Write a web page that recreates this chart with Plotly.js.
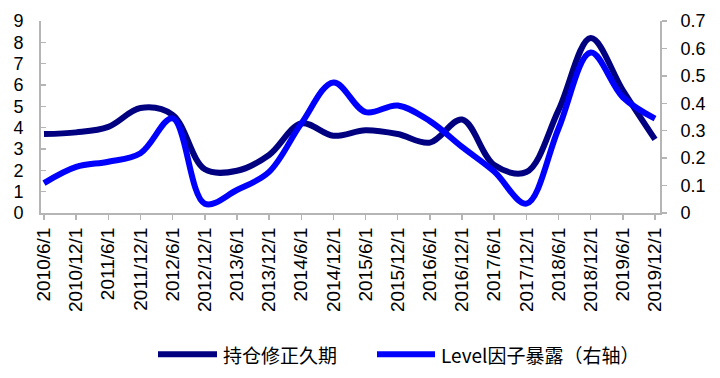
<!DOCTYPE html>
<html>
<head>
<meta charset="utf-8">
<script src="https://cdn.plot.ly/plotly-3.0.1.min.js"></script>
<style>
html,body{margin:0;padding:0;background:#fff;}
#chart{width:720px;height:378px;}
</style>
</head>
<body>
<div id="chart"></div>
<script>
// Data
const categories = ["2010/6/1","2010/12/1","2011/6/1","2011/12/1","2012/6/1","2012/12/1","2013/6/1","2013/12/1","2014/6/1","2014/12/1","2015/6/1","2015/12/1","2016/6/1","2016/12/1","2017/6/1","2017/12/1","2018/6/1","2018/12/1","2019/6/1","2019/12/1"];
const durationValues = [3.70, 3.78, 4.04, 4.92, 4.60, 2.05, 1.98, 2.72, 4.20, 3.62, 3.88, 3.70, 3.30, 4.38, 2.25, 1.92, 4.82, 8.20, 5.75, 3.45];
const levelValues = [0.109, 0.168, 0.187, 0.218, 0.345, 0.034, 0.084, 0.150, 0.326, 0.476, 0.368, 0.392, 0.335, 0.241, 0.151, 0.034, 0.308, 0.585, 0.422, 0.344];
const seriesNames = ["持仓修正久期", "Level因子暴露（右轴）"];
const leftTicks = [0,1,2,3,4,5,6,7,8,9];
const rightTicks = [0,0.1,0.2,0.3,0.4,0.5,0.6,0.7];

const navy = "#000080";
const blue = "#0000FF";
const axisGray = "#b5b5b5";
const latin = "Arial, 'Liberation Sans', sans-serif";
const tickFont = {family: latin, size: 18, color: "#000"};

const traces = [
  {x: categories, y: durationValues, name: seriesNames[0], type: "scatter", mode: "lines",
   line: {color: navy, width: 6, shape: "spline", smoothing: 1}, yaxis: "y"},
  {x: categories, y: levelValues, name: seriesNames[1], type: "scatter", mode: "lines",
   line: {color: blue, width: 6, shape: "spline", smoothing: 1}, yaxis: "y2"}
];

// plot area geometry (pixels)
const L = 41, R = 660, T = 20.7, B = 213.3;
const W = 720, H = 378;
const px = v => (v - L) / (R - L);
const py = v => (B - v) / (B - T);
const legY = py(355);

const layout = {
  width: W, height: H,
  margin: {l: L, r: W - R, t: T, b: H - B, pad: 0},
  paper_bgcolor: "#fff", plot_bgcolor: "#fff",
  showlegend: false,
  xaxis: {
    type: "category", range: [-0.093, 19.155],
    showgrid: false, zeroline: false,
    showline: true, linecolor: axisGray, linewidth: 2,
    ticks: "outside", ticklen: 5, tickcolor: axisGray, tickwidth: 1.5,
    tickangle: -90, tickfont: {family: latin, size: 19, color: "#000"},
    fixedrange: true
  },
  yaxis: {
    range: [0, 9], tickvals: leftTicks, ticktext: leftTicks.map(String),
    showgrid: false, zeroline: false,
    showline: true, linecolor: axisGray, linewidth: 2,
    ticks: "inside", ticklen: 5, tickcolor: axisGray, tickwidth: 1.5,
    tickfont: tickFont, ticklabelstandoff: 12, fixedrange: true
  },
  yaxis2: {
    overlaying: "y", side: "right", range: [0, 0.7],
    tickvals: rightTicks, ticktext: rightTicks.map(String),
    showgrid: false, zeroline: false,
    showline: true, linecolor: axisGray, linewidth: 2,
    ticks: "outside", ticklen: 5, tickcolor: axisGray, tickwidth: 1.5,
    tickfont: tickFont, ticklabelstandoff: 10, fixedrange: true
  },
  shapes: [
    {type: "line", xref: "paper", yref: "paper", x0: px(158), x1: px(217), y0: legY, y1: legY,
     line: {color: navy, width: 6}},
    {type: "line", xref: "paper", yref: "paper", x0: px(377), x1: px(435), y0: legY, y1: legY,
     line: {color: blue, width: 6}}
  ],
  annotations: [
    {xref: "paper", yref: "paper", x: px(221), y: legY, xanchor: "left", yanchor: "middle",
     text: seriesNames[0], showarrow: false,
     font: {family: "'Noto Sans CJK SC', sans-serif", size: 19, color: "#000"}},
    {xref: "paper", yref: "paper", x: px(439), y: legY, xanchor: "left", yanchor: "middle",
     text: seriesNames[1], showarrow: false,
     font: {family: "'Noto Sans CJK SC', sans-serif", size: 19, color: "#000"}}
  ]
};

Plotly.newPlot("chart", traces, layout, {displayModeBar: false, staticPlot: true});
</script>
</body>
</html>
